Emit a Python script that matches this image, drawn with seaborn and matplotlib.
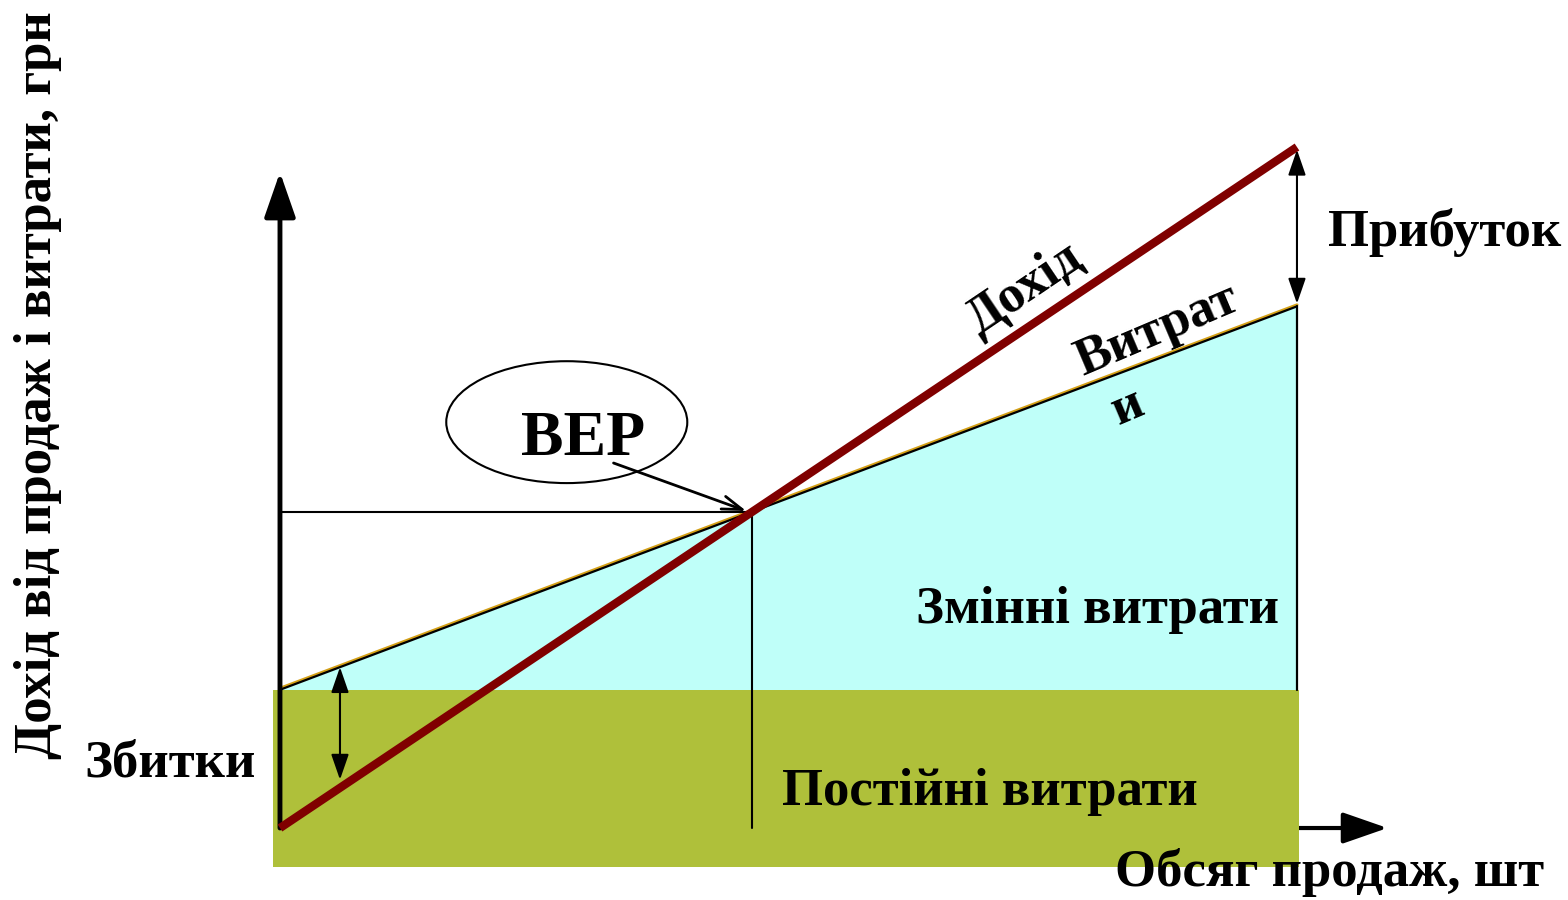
import numpy as np
import pandas as pd
import matplotlib
matplotlib.use('Agg')
import matplotlib.pyplot as plt
import matplotlib.transforms as mtransforms
import seaborn as sns
from matplotlib.patches import Ellipse

# break-even data (volume in units, money in conventional units)
volume = np.array([0, 100])
revenue = np.array([0, 100])
fixed_costs = np.array([20.3, 20.3])
total_costs = np.array([20.3, 76.6])
fixed_band_bottom = -5.7

# break-even point: revenue = total costs
price = (revenue[1] - revenue[0]) / (volume[1] - volume[0])
var_cost = (total_costs[1] - total_costs[0]) / (volume[1] - volume[0])
bep_x = fixed_costs[0] / (price - var_cost)
bep_y = price * bep_x

df = pd.DataFrame({'volume': volume, 'revenue': revenue, 'total': total_costs})

sns.set_theme(style='white')
plt.rcParams['font.family'] = ['Liberation Serif', 'DejaVu Serif']
plt.rcParams['font.weight'] = 'bold'
plt.rcParams['text.color'] = 'black'

fig = plt.figure(figsize=(15.68, 9), dpi=100)
ax = fig.add_axes([0, 0, 1, 1])
ax.set_xlim(-27.53, 126.65)
ax.set_ylim(-10.57, 121.59)
ax.axis('off')

axis_arrow = '-|>,head_length=2.3,head_width=0.8'
small_arrow = '<|-|>,head_length=1.3,head_width=0.45'

# x axis arrow (mostly hidden under fixed-cost band)
ax.annotate('', xy=(108.9, 0), xytext=(0, 0),
            arrowprops=dict(arrowstyle=axis_arrow, color='black', lw=3,
                            shrinkA=0, shrinkB=0), zorder=1)

# variable costs area
ax.fill_between(volume, fixed_costs, total_costs, color='#BFFFF9', lw=0, zorder=2)
# fixed costs band
ax.fill_between([volume[0] - 0.7, volume[1] + 0.2], fixed_band_bottom, fixed_costs[0],
                color='#AFC03A', lw=0, zorder=3)

# total cost line: gold tint just above a black edge
gold_shift = mtransforms.offset_copy(ax.transData, fig=fig, x=0, y=1.5, units='dots')
ax.plot(volume, total_costs, color='#D4A017', lw=2.2, transform=gold_shift, zorder=4)
sns.lineplot(data=df, x='volume', y='total', color='black', lw=1.6, ax=ax, zorder=5)
ax.plot([volume[1], volume[1]], [fixed_costs[1], total_costs[1]], color='black', lw=1.6, zorder=5)

# BEP guide lines
ax.plot([0, bep_x], [bep_y, bep_y], color='black', lw=1.5, zorder=5)
ax.plot([bep_x, bep_x], [0, bep_y], color='black', lw=1.5, zorder=5)

# y axis arrow
ax.annotate('', xy=(0, 96.3), xytext=(0, 0),
            arrowprops=dict(arrowstyle=axis_arrow, color='black', lw=3.5,
                            shrinkA=0, shrinkB=0), zorder=6)

# revenue line
sns.lineplot(data=df, x='volume', y='revenue', color='#800000', lw=6,
             solid_capstyle='butt', ax=ax, zorder=7)

# loss arrow
loss_x = 5.9
ax.annotate('', xy=(loss_x, price * loss_x + 1.2), xytext=(loss_x, fixed_costs[0] + var_cost * loss_x),
            arrowprops=dict(arrowstyle=small_arrow, color='black', lw=1.5,
                            shrinkA=0, shrinkB=0), zorder=8)
# profit arrow
ax.annotate('', xy=(volume[1], revenue[1] - 0.4), xytext=(volume[1], total_costs[1] + 0.4),
            arrowprops=dict(arrowstyle=small_arrow, color='black', lw=1.5,
                            shrinkA=0, shrinkB=0), zorder=8)

# BEP callout
ax.add_patch(Ellipse((28.2, 59.6), 23.7, 17.9, fill=False, ec='black', lw=1.5, zorder=8))
ax.annotate('', xy=(bep_x - 0.6, bep_y + 0.1), xytext=(32.8, 53.6),
            arrowprops=dict(arrowstyle='->,head_length=1.2,head_width=0.4',
                            color='black', lw=2, shrinkA=0, shrinkB=0), zorder=8)
ax.text(29.8, 57.0, 'ВЕР', fontsize=46, fontweight='bold', ha='center', va='center', zorder=9)

fs = 38
ax.text(-23.8, 65.1, 'Дохід від продаж і витрати, грн', fontsize=fs, fontweight='bold',
        rotation=90, ha='center', va='center')
ax.text(103.2, -6.6, 'Обсяг продаж, шт', fontsize=fs, fontweight='bold', ha='center', va='center')
ax.text(-10.8, 9.5, 'Збитки', fontsize=fs, fontweight='bold', ha='center', va='center')
ax.text(114.5, 87.5, 'Прибуток', fontsize=fs, fontweight='bold', ha='center', va='center')
ax.text(73.2, 79.2, 'Дохід', fontsize=fs, fontweight='bold', rotation=34,
        ha='center', va='center', rotation_mode='anchor')
ax.text(86.2, 73.1, 'Витрат', fontsize=fs, fontweight='bold', rotation=23,
        ha='center', va='center', rotation_mode='anchor')
ax.text(83.3, 61.8, 'и', fontsize=fs, fontweight='bold', rotation=23,
        ha='center', va='center', rotation_mode='anchor')
ax.text(80.4, 32.0, 'Змінні витрати', fontsize=fs, fontweight='bold', ha='center', va='center', zorder=9)
ax.text(69.8, 5.3, 'Постійні витрати', fontsize=fs, fontweight='bold', ha='center', va='center', zorder=9)

plt.savefig('out.png', dpi=100)
